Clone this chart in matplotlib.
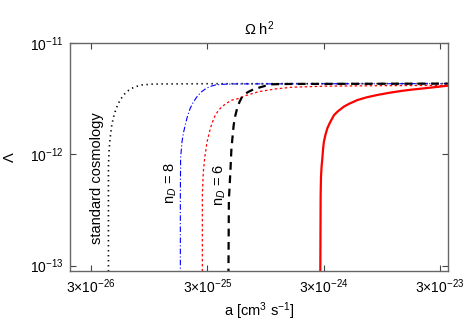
import numpy as np
import matplotlib
matplotlib.use('Agg')
import matplotlib.pyplot as plt
from matplotlib.ticker import FixedLocator, NullLocator

plt.rcParams['font.family'] = ['Liberation Sans', 'DejaVu Sans']
plt.rcParams['mathtext.fontset'] = 'custom'
plt.rcParams['mathtext.rm'] = 'Liberation Sans'
plt.rcParams['mathtext.it'] = 'Liberation Sans:italic'

# a in units of 1e-26 cm^3/s, Lambda in units of 1e-12
std_a = [4.24, 4.24, 4.30, 4.38, 4.53, 4.68, 4.84, 5.07, 5.34, 5.90, 6.3, 6.74, 7.4, 8.22, 10.0, 12.2, 30, 3500]
std_lam = [0.08, 0.80, 1.10, 1.39, 1.83, 2.14, 2.41, 2.75, 3.07, 3.53, 3.74, 3.91, 4.07, 4.19, 4.26, 4.28, 4.30, 4.31]

n8_a = [17.6, 17.6, 17.7, 18.2, 18.7, 19.4, 20.3, 21.4, 22.8, 24.5, 26.5, 28.9, 31.5, 35.2, 41.0, 49.1, 3500]
n8_lam = [0.08, 0.43, 0.93, 1.30, 1.55, 1.83, 2.21, 2.59, 2.95, 3.29, 3.61, 3.86, 4.05, 4.19, 4.25, 4.28, 4.31]

red_dot_a = [27.2, 27.2, 27.7, 28.5, 29.9, 31.9, 33.4, 35.2, 37.5, 40.2, 44.0, 49.1, 55.9, 63.9, 83.2, 116, 161, 313, 1000, 3500]
red_dot_lam = [0.08, 0.43, 0.68, 0.93, 1.30, 1.71, 1.97, 2.25, 2.48, 2.68, 2.88, 3.07, 3.17, 3.36, 3.65, 3.86, 4.00, 4.09, 4.13, 4.15]

n6_a = [45.6, 46.0, 47.4, 48.4, 50.6, 52.2, 54.2, 56.8, 59.8, 63.5, 68.2, 75, 83.2, 95, 109, 130, 156, 3500]
n6_lam = [0.08, 0.39, 0.70, 1.13, 1.83, 2.21, 2.59, 2.95, 3.29, 3.49, 3.65, 3.83, 3.96, 4.12, 4.25, 4.27, 4.28, 4.31]

red_a = [281, 283, 285, 288.4, 293, 297, 302, 312, 323, 339, 369, 398, 449, 501, 587, 708, 873, 1096, 1385, 1738, 2200, 2754, 3522]
red_lam = [0.08, 0.43, 0.63, 0.78, 0.93, 1.12, 1.30, 1.51, 1.71, 1.91, 2.25, 2.43, 2.68, 2.85, 3.07, 3.25, 3.41, 3.56, 3.70, 3.81, 3.91, 4.01, 4.13]

xticks = [3e-26, 3e-25, 3e-24, 3e-23]
xticklabels = [r'3$\times$10$^{-26}$', r'3$\times$10$^{-25}$', r'3$\times$10$^{-24}$', r'3$\times$10$^{-23}$']
yticks = [1e-13, 1e-12, 1e-11]
yticklabels = [r'10$^{-13}$', r'10$^{-12}$', r'10$^{-11}$']

fig = plt.figure(figsize=(4.74, 3.32), dpi=100)
ax = fig.add_axes([0.1487, 0.1846, 0.7958, 0.6862])

def sc(a, l):
    return np.array(a) * 1e-26, np.array(l) * 1e-12

x, y = sc(std_a, std_lam)
ax.plot(x, y, color='black', lw=1.2, dashes=(0.8, 2.2))
x, y = sc(n8_a, n8_lam)
ax.plot(x, y, color='blue', lw=0.8, dashes=(5, 2, 1, 2))
x, y = sc(red_dot_a, red_dot_lam)
ax.plot(x, y, color='red', lw=0.9, dashes=(2, 2))
x, y = sc(n6_a, n6_lam)
ax.plot(x, y, color='black', lw=1.6, dashes=(3.5, 2.5))
x, y = sc(red_a, red_lam)
ax.plot(x, y, color='red', lw=1.6)

ax.set_xscale('log')
ax.set_yscale('log')
ax.set_xlim(2e-26, 3.5e-23)
ax.set_ylim(9e-14, 1e-11)

ax.xaxis.set_major_locator(FixedLocator(xticks))
ax.set_xticklabels(xticklabels)
ax.yaxis.set_major_locator(FixedLocator(yticks))
ax.set_yticklabels(yticklabels)
ax.xaxis.set_minor_locator(NullLocator())
ax.yaxis.set_minor_locator(NullLocator())
ax.tick_params(direction='in', length=4, width=0.8, color='#444444',
               top=True, right=True, labelsize=10, pad=5)

for s in ax.spines.values():
    s.set_color('#666666')
    s.set_linewidth(1.0)

ax.set_title(r'$\Omega$ h$^2$', fontsize=10.5, pad=6)
ax.set_xlabel(r'a [cm$^3$ s$^{-1}$]', fontsize=10.5, labelpad=3)
ax.set_ylabel(r'$\Lambda$', fontsize=10.5)
ax.yaxis.set_label_coords(-0.142, 0.5)

ax.text(3.4e-26, 6.1e-13, 'standard cosmology', rotation=90, fontsize=10.5,
        ha='center', va='center')
ax.text(1.47e-25, 5.5e-13, r'n$_D$ = 8', rotation=90, fontsize=10.5,
        ha='center', va='center')
ax.text(3.81e-25, 5.3e-13, r'n$_D$ = 6', rotation=90, fontsize=10.5,
        ha='center', va='center')

fig.savefig('out.png', dpi=100)
